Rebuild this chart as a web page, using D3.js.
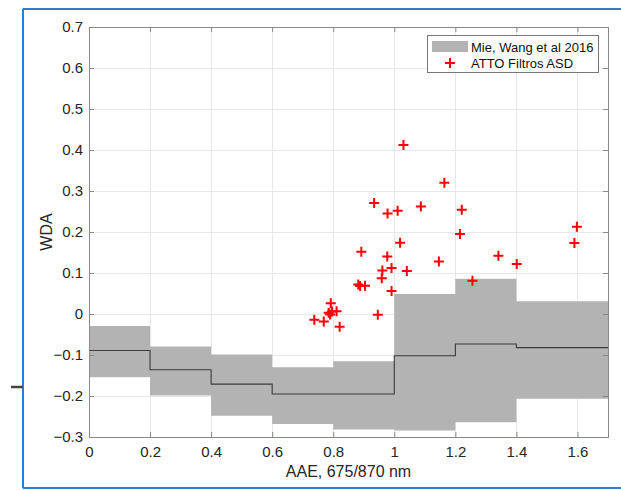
<!DOCTYPE html>
<html>
<head>
<meta charset="utf-8">
<script src="https://cdn.jsdelivr.net/npm/d3@7"></script>
<style>
  html, body { margin: 0; padding: 0; background: #fff; }
  svg { display: block; font-family: "Liberation Sans", Arial, Helvetica, sans-serif; }
</style>
</head>
<body>
<svg id="chart" width="621" height="490"></svg>
<script>
// ---- Data ----
const binEdges   = [0, 0.2, 0.4, 0.6, 0.8, 1.0, 1.2, 1.4, 1.7];
const bandUpper  = [-0.029, -0.079, -0.099, -0.130, -0.115, 0.049, 0.086, 0.031];
const bandLower  = [-0.154, -0.199, -0.248, -0.268, -0.282, -0.284, -0.264, -0.207];
const bandMedian = [-0.089, -0.136, -0.171, -0.195, -0.195, -0.102, -0.073, -0.082];

const aae = [1.030, 1.164, 0.934, 0.978, 1.011, 1.087, 1.221, 1.215, 1.598, 1.590,
             1.341, 1.401, 1.146, 1.256, 1.019, 0.892, 0.977, 0.961, 0.991, 1.041,
             0.959, 0.882, 0.888, 0.904, 0.991, 0.792, 0.785, 0.790, 0.796, 0.811,
             0.946, 0.738, 0.769, 0.821];
const wda = [0.412, 0.320, 0.271, 0.245, 0.252, 0.262, 0.254, 0.195, 0.213, 0.173,
             0.142, 0.122, 0.128, 0.081, 0.174, 0.152, 0.140, 0.106, 0.112, 0.105,
             0.087, 0.072, 0.068, 0.069, 0.056, 0.026, 0.003, -0.001, 0.006, 0.007,
             -0.002, -0.014, -0.018, -0.031];

const xTicks = [0, 0.2, 0.4, 0.6, 0.8, 1.0, 1.2, 1.4, 1.6];
const yTicks = [-0.3, -0.2, -0.1, 0, 0.1, 0.2, 0.3, 0.4, 0.5, 0.6, 0.7];
const legendLabels = ["Mie, Wang et al 2016", "ATTO Filtros ASD"];
const xLabel = "AAE, 675/870 nm";
const yLabel = "WDA";

// ---- Layout ----
const L = 89, R = 608, T = 27, B = 437;
const svg = d3.select("#chart");
const x = d3.scaleLinear().domain([0, 1.7]).range([L, R]);
const y = d3.scaleLinear().domain([-0.3, 0.7]).range([B, T]);
const fmt = d => (d === 0 ? "0" : d3.format("")(+d.toFixed(1)));

// frame decorations from the screenshot
svg.append("path").attr("d", "M23,9V488M23,9H621M23,488H621")
  .attr("fill", "none").attr("stroke", "#2a7fd4").attr("stroke-width", 2);
svg.append("line").attr("x1", 11).attr("x2", 23).attr("y1", 387).attr("y2", 387)
  .attr("stroke", "#444").attr("stroke-width", 2.5);

// grid
const grid = svg.append("g").attr("stroke", "#e8e8e8").attr("stroke-width", 1);
grid.selectAll(".gx").data(xTicks).join("line")
  .attr("x1", d => Math.round(x(d)) + 0.5).attr("x2", d => Math.round(x(d)) + 0.5)
  .attr("y1", T).attr("y2", B);
grid.selectAll(".gy").data(yTicks).join("line")
  .attr("y1", d => Math.round(y(d)) + 0.5).attr("y2", d => Math.round(y(d)) + 0.5)
  .attr("x1", L).attr("x2", R);

// band
const bandPts = bandUpper.map((u, i) => ({x0: binEdges[i], u, l: bandLower[i], m: bandMedian[i]}));
const lastPt = {x0: binEdges[binEdges.length - 1], u: bandUpper[bandUpper.length - 1],
                l: bandLower[bandLower.length - 1], m: bandMedian[bandMedian.length - 1]};
const stepData = bandPts.concat([lastPt]);
svg.append("path").datum(stepData)
  .attr("fill", "#b3b3b3")
  .attr("d", d3.area().curve(d3.curveStepAfter).x(d => x(d.x0)).y0(d => y(d.l)).y1(d => y(d.u)));
svg.append("path").datum(stepData)
  .attr("fill", "none").attr("stroke", "#3a3a3a").attr("stroke-width", 1.1)
  .attr("d", d3.line().curve(d3.curveStepAfter).x(d => x(d.x0)).y(d => y(d.m)));

// points
const plus = "M-5,0H5M0,-5V5";
svg.append("g").selectAll("path").data(aae.map((a, i) => [a, wda[i]])).join("path")
  .attr("transform", d => `translate(${x(d[0])},${y(d[1])})`)
  .attr("d", plus).attr("stroke", "#ff0000").attr("stroke-width", 2).attr("fill", "none");

// axes
const axisColor = "#888";
const textColor = "#262626";
function styleAxis(g) {
  g.select(".domain").remove();
  g.selectAll(".tick line").attr("stroke", axisColor);
  g.selectAll(".tick text").attr("fill", textColor).attr("font-size", 15);
}
svg.append("g").attr("transform", `translate(0,${B})`)
  .call(d3.axisBottom(x).tickValues(xTicks).tickFormat(fmt).tickSize(-5).tickPadding(9))
  .call(styleAxis);
svg.append("g").attr("transform", `translate(${L},0)`)
  .call(d3.axisLeft(y).tickValues(yTicks).tickFormat(fmt).tickSize(-5).tickPadding(6))
  .call(styleAxis);
svg.append("g").attr("transform", `translate(0,${T})`)
  .call(d3.axisTop(x).tickValues(xTicks).tickFormat("").tickSize(-5))
  .call(styleAxis);
svg.append("g").attr("transform", `translate(${R},0)`)
  .call(d3.axisRight(y).tickValues(yTicks).tickFormat("").tickSize(-5))
  .call(styleAxis);
svg.selectAll("g text").attr("font-family", "Liberation Sans, Arial, sans-serif");
svg.append("rect").attr("x", L + 0.5).attr("y", T + 0.5).attr("width", R - L).attr("height", B - T)
  .attr("fill", "none").attr("stroke", axisColor).attr("stroke-width", 1);

// axis labels
svg.append("text").attr("x", (L + R) / 2).attr("y", 471).attr("text-anchor", "middle")
  .attr("dominant-baseline", "central").attr("font-size", 16).attr("fill", textColor).text(xLabel);
svg.append("text").attr("transform", `translate(46,${(T + B) / 2}) rotate(-90)`)
  .attr("text-anchor", "middle").attr("dominant-baseline", "central")
  .attr("font-size", 16).attr("fill", textColor).text(yLabel);

// legend
const lg = svg.append("g");
lg.append("rect").attr("x", 427.5).attr("y", 35.5).attr("width", 171).attr("height", 37)
  .attr("fill", "#fff").attr("stroke", "#777").attr("stroke-width", 1);
lg.append("rect").attr("x", 432).attr("y", 41).attr("width", 36).attr("height", 11).attr("fill", "#b3b3b3");
lg.append("path").attr("transform", "translate(450,63)").attr("d", plus)
  .attr("stroke", "#ff0000").attr("stroke-width", 2);
lg.selectAll("text.lt").data(legendLabels).join("text")
  .attr("x", 471).attr("y", (d, i) => 47 + i * 16).attr("dominant-baseline", "central")
  .attr("font-size", 13).attr("fill", "#111").text(d => d);
</script>
</body>
</html>
